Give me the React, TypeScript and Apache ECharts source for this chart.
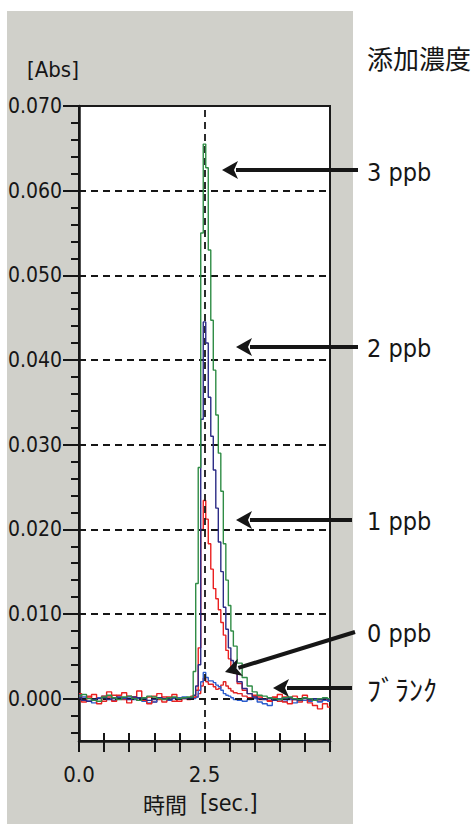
import { useEffect, useRef } from "react";
import * as echarts from "echarts";

// time axis samples [sec.]
const times = [
  0, 0.1, 0.2, 0.3, 0.4, 0.5, 0.6, 0.7, 0.8, 0.9, 1.0, 1.1, 1.2, 1.3, 1.4, 1.5, 1.6, 1.7, 1.8, 1.9, 2.0, 2.1, 2.2,
  2.25, 2.3, 2.35, 2.4, 2.45, 2.5, 2.55, 2.6, 2.65, 2.7, 2.75, 2.8, 2.85, 2.9, 2.95, 3.0, 3.05, 3.1,
  3.2, 3.3, 3.4, 3.5, 3.6, 3.7, 3.8, 3.9, 4.0, 4.1, 4.2, 4.3, 4.4, 4.5, 4.6, 4.7, 4.8, 4.9, 5.0,
];

// 3 ppb (green)
const ppb3 = [
  0.0003, 0.0005, 0.0000, -0.0002, -0.0003, 0.0002, 0.0004, 0.0001, -0.0001, 0.0002, 0.0003, 0.0000, -0.0002, 0.0001, 0.0003, 0.0002, 0.0000, -0.0001, 0.0001, 0.0002, 0.0000, 0.0001, 0.0002,
  0.0002, 0.0032, 0.0136, 0.0273, 0.0550, 0.0655, 0.0627, 0.0530, 0.0447, 0.0388, 0.0335, 0.0290, 0.0245, 0.0183, 0.0140, 0.0110, 0.0080, 0.0062,
  0.0042, 0.0025, 0.0015, 0.0008, 0.0004, 0.0003, 0.0001, 0.0000, -0.0001, 0.0001, 0.0002, 0.0000, -0.0001, 0.0001, 0.0000, -0.0002, 0.0000, 0.0001, 0.0000,
];

// 2 ppb (navy)
const ppb2 = [
  0.0001, -0.0002, -0.0003, -0.0001, 0.0000, 0.0001, -0.0001, 0.0000, 0.0002, 0.0001, -0.0001, 0.0002, 0.0001, 0.0000, -0.0002, -0.0001, 0.0001, 0.0000, -0.0001, 0.0001, 0.0000, 0.0000, 0.0001,
  0.0001, 0.0004, 0.0015, 0.0040, 0.0330, 0.0445, 0.0420, 0.0356, 0.0310, 0.0270, 0.0225, 0.0185, 0.0150, 0.0108, 0.0082, 0.0060, 0.0045, 0.0033,
  0.0020, 0.0012, 0.0006, 0.0002, 0.0000, -0.0001, 0.0000, -0.0002, -0.0001, 0.0000, 0.0001, -0.0001, -0.0002, 0.0000, -0.0001, 0.0000, -0.0001, 0.0000, -0.0001,
];

// 1 ppb (red)
const ppb1 = [
  0.0006, -0.0004, 0.0002, 0.0005, -0.0006, 0.0003, 0.0008, -0.0003, 0.0004, 0.0007, -0.0005, 0.0002, 0.0009, -0.0002, -0.0006, 0.0003, 0.0006, -0.0004, 0.0002, 0.0005, -0.0003, 0.0001, 0.0000,
  0.0003, 0.0002, 0.0010, 0.0060, 0.0200, 0.0234, 0.0212, 0.0183, 0.0153, 0.0130, 0.0118, 0.0105, 0.0090, 0.0075, 0.0057, 0.0047, 0.0037, 0.0030,
  0.0018, 0.0010, 0.0006, 0.0004, 0.0002, 0.0000, -0.0003, 0.0002, 0.0005, -0.0004, -0.0006, 0.0003, -0.0002, 0.0004, -0.0005, -0.0008, -0.0012, -0.0006, -0.0010,
];

// 0 ppb (blue)
const ppb0 = [
  0.0004, 0.0002, -0.0003, -0.0005, 0.0001, 0.0003, 0.0000, -0.0002, 0.0001, 0.0000, 0.0002, -0.0001, 0.0000, -0.0003, -0.0005, -0.0004, 0.0001, 0.0000, -0.0002, 0.0000, 0.0001, 0.0002, 0.0000,
  0.0001, 0.0000, 0.0002, 0.0010, 0.0020, 0.0031, 0.0025, 0.0021, 0.0021, 0.0019, 0.0016, 0.0014, 0.0010, 0.0006, 0.0004, 0.0003, 0.0001, -0.0001,
  -0.0002, -0.0003, -0.0001, 0.0000, -0.0004, -0.0006, -0.0008, -0.0002, 0.0000, -0.0003, -0.0001, -0.0005, 0.0000, -0.0002, -0.0003, -0.0001, -0.0004, -0.0002, -0.0003,
];

// blank (red)
const blank = [
  0.0002, 0.0000, 0.0003, -0.0002, 0.0001, -0.0003, 0.0002, 0.0004, 0.0000, -0.0001, 0.0003, 0.0001, -0.0002, 0.0000, 0.0002, -0.0004, -0.0001, 0.0002, 0.0000, -0.0003, 0.0001, 0.0000, -0.0001,
  0.0000, 0.0001, 0.0002, 0.0006, 0.0015, 0.0024, 0.0020, 0.0017, 0.0017, 0.0014, 0.0011, 0.0012, 0.0016, 0.0020, 0.0015, 0.0012, 0.0009, 0.0007,
  0.0006, 0.0003, 0.0001, 0.0002, -0.0001, 0.0000, -0.0002, 0.0001, -0.0003, 0.0002, 0.0000, -0.0001, -0.0004, 0.0001, -0.0002, 0.0000, -0.0003, -0.0001, -0.0002,
];

const yMajorTicks = [0, 0.01, 0.02, 0.03, 0.04, 0.05, 0.06, 0.07];
const yMinorTicks = [
  -0.004, -0.002, 0.002, 0.004, 0.006, 0.008, 0.012, 0.014, 0.016, 0.018, 0.022, 0.024, 0.026, 0.028,
  0.032, 0.034, 0.036, 0.038, 0.042, 0.044, 0.046, 0.048, 0.052, 0.054, 0.056, 0.058, 0.062, 0.064, 0.066, 0.068,
];
const gridLevels = [0, 0.01, 0.02, 0.03, 0.04, 0.05, 0.06];
const injectTime = 2.5;
const xLabels: Record<string, string> = { "0": "0.0", "2.5": "2.5" };

const seriesDefs = [
  { name: "ブランク", data: blank, color: "#e02424" },
  { name: "0 ppb", data: ppb0, color: "#2a5ccc" },
  { name: "1 ppb", data: ppb1, color: "#ea2020" },
  { name: "2 ppb", data: ppb2, color: "#2c2c86" },
  { name: "3 ppb", data: ppb3, color: "#2f8c45" },
];

const legendLabels = [
  { text: "3 ppb", y: 172, cjk: false },
  { text: "2 ppb", y: 348, cjk: false },
  { text: "1 ppb", y: 521, cjk: false },
  { text: "0 ppb", y: 633, cjk: false },
  { text: "ﾌﾞﾗﾝｸ", y: 689, cjk: true },
];

const NUM = "'Liberation Sans Narrow', 'DejaVu Sans Condensed', 'Arial Narrow', sans-serif";
const CJK = "'Noto Sans CJK JP', sans-serif";
const INK = "#161616";

function arrow(tip: [number, number], tail: [number, number]) {
  const dx = tail[0] - tip[0];
  const dy = tail[1] - tip[1];
  const len = Math.sqrt(dx * dx + dy * dy);
  const ux = dx / len;
  const uy = dy / len;
  const headLen = 16;
  const half = 9;
  const bx = tip[0] + ux * headLen;
  const by = tip[1] + uy * headLen;
  const px = -uy * half;
  const py = ux * half;
  return [
    {
      type: "line",
      z: 100,
      shape: { x1: tip[0] + ux * (headLen - 2), y1: tip[1] + uy * (headLen - 2), x2: tail[0], y2: tail[1] },
      style: { stroke: INK, lineWidth: 4 },
    },
    {
      type: "polygon",
      z: 100,
      shape: {
        points: [
          [tip[0], tip[1]],
          [bx + px, by + py],
          [tip[0] + ux * (headLen - 4), tip[1] + uy * (headLen - 4)],
          [bx - px, by - py],
        ],
      },
      style: { fill: INK },
    },
  ];
}

export default function App() {
  const ref = useRef<HTMLDivElement>(null);
  useEffect(() => {
    if (!ref.current) return;
    const chart = echarts.init(ref.current, null, { renderer: "svg" });
    const pair = (vals: number[]) => times.map((t, i) => [t, vals[i]]);

    const arrows = [
      ...arrow([222, 170], [358, 170]),
      ...arrow([236, 347], [358, 347]),
      ...arrow([236, 520], [352, 520]),
      ...arrow([225, 672], [355, 632]),
      ...arrow([273, 688], [352, 688]),
    ];

    const texts = [
      {
        type: "text",
        z: 100,
        x: 27,
        y: 69,
        style: { text: "[Abs]", font: `22px ${NUM}`, fill: INK, verticalAlign: "middle", align: "left" },
      },
      {
        type: "text",
        z: 100,
        x: 367,
        y: 57,
        style: { text: "添加濃度", font: `26px ${CJK}`, fill: INK, verticalAlign: "middle", align: "left" },
      },
      {
        type: "text",
        z: 100,
        x: 143,
        y: 803,
        style: { text: "時間", font: `22px ${CJK}`, fill: INK, verticalAlign: "middle", align: "left" },
      },
      {
        type: "text",
        z: 100,
        x: 200,
        y: 803,
        style: { text: "[sec.]", font: `23px ${NUM}`, fill: INK, verticalAlign: "middle", align: "left" },
      },
      ...legendLabels.map((l) => ({
        type: "text",
        z: 100,
        x: 367,
        y: l.y,
        style: {
          text: l.text,
          font: l.cjk ? `28px ${CJK}` : `25px ${NUM}`,
          fill: INK,
          verticalAlign: "middle",
          align: "left",
        },
      })),
    ];

    const option: any = {
      animation: false,
      grid: {
        left: 79,
        top: 106,
        right: 146,
        bottom: 83,
        show: true,
        backgroundColor: "#ffffff",
        borderWidth: 2,
        borderColor: "#1a1a1a",
      },
      xAxis: [
        {
          type: "value",
          min: 0,
          max: 5,
          interval: 0.5,
          position: "bottom",
          axisLine: { onZero: false, lineStyle: { color: INK, width: 2.5 } },
          axisTick: { length: 11, lineStyle: { color: INK, width: 2 } },
          axisLabel: {
            formatter: (v: number) => xLabels[String(v)] ?? "",
            margin: 22,
            color: INK,
            fontFamily: NUM,
            fontSize: 22,
          },
          splitLine: { show: false },
        },
        {
          type: "value",
          min: 0,
          max: 5,
          interval: 0.5,
          position: "bottom",
          axisLine: { show: false, onZero: false },
          axisTick: { inside: true, length: 8, lineStyle: { color: INK, width: 2 } },
          axisLabel: { show: false },
          splitLine: { show: false },
        },
      ],
      yAxis: [
        {
          type: "value",
          min: -0.005,
          max: 0.07,
          position: "left",
          axisLine: { onZero: false, lineStyle: { color: INK, width: 2.5 } },
          axisTick: { customValues: yMajorTicks, length: 16, lineStyle: { color: INK, width: 2 } },
          axisLabel: {
            customValues: yMajorTicks,
            formatter: (v: number) => v.toFixed(3),
            margin: 17,
            color: INK,
            fontFamily: NUM,
            fontSize: 21,
          },
          splitLine: { show: false },
        },
        {
          type: "value",
          min: -0.005,
          max: 0.07,
          position: "left",
          axisLine: { show: false, onZero: false },
          axisTick: { customValues: yMinorTicks, length: 8, lineStyle: { color: INK, width: 2 } },
          axisLabel: { show: false },
          splitLine: { show: false },
        },
      ],
      series: [
        {
          type: "line",
          name: "grid",
          data: [],
          z: 1,
          silent: true,
          markLine: {
            silent: true,
            symbol: ["none", "none"],
            label: { show: false },
            lineStyle: { color: INK, width: 1.8, type: [7, 5] },
            emphasis: { disabled: true },
            data: [...gridLevels.map((v) => ({ yAxis: v })), { xAxis: injectTime }],
          },
        },
        ...seriesDefs.map((s, i) => ({
          type: "line",
          name: s.name,
          data: pair(s.data),
          step: "middle",
          symbol: "none",
          z: 2 + i,
          lineStyle: { color: s.color, width: 1.4 },
          itemStyle: { color: s.color },
        })),
      ],
      graphic: { elements: [...arrows, ...texts] },
    };
    chart.setOption(option);
    return () => chart.dispose();
  }, []);

  return (
    <div style={{ position: "fixed", left: 0, top: 0, width: 476, height: 824, background: "#ffffff" }}>
      <div style={{ position: "absolute", left: 7, top: 11, width: 346, height: 813, background: "#d0d0ca" }} />
      <div ref={ref} style={{ position: "absolute", left: 0, top: 0, width: 476, height: 824 }} />
    </div>
  );
}
